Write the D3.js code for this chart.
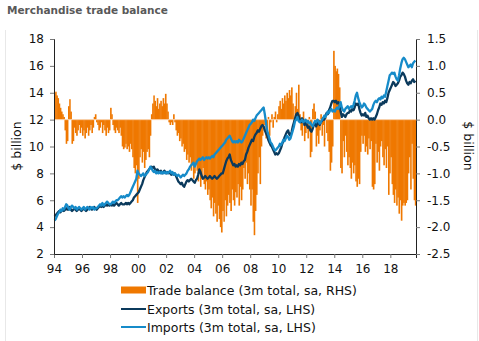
<!DOCTYPE html>
<html>
<head>
<meta charset="utf-8">
<script src="https://cdn.jsdelivr.net/npm/d3@7"></script>
<style>
  body { margin: 0; background: #fff; }
  text { font-family: "DejaVu Sans", Verdana, sans-serif; }
</style>
</head>
<body>
<div id="chart"></div>
<script>
// monthly, Jan 1994 .. Oct 2019
var balance = [
  0.50, 0.52, 0.45, 0.40, 0.30, 0.22, 0.15, 0.10, 0.05, -0.20, -0.45, -0.40, // 94
  0.25, 0.38, 0.15, -0.45, -0.40, -0.15, -0.25, -0.30, -0.20, -0.10, -0.25, -0.15,
  -0.30, -0.20, -0.35, -0.25, -0.15, -0.30, -0.20, -0.10, -0.25, -0.15, 0.05, 0.10,
  -0.05, -0.10, -0.20, -0.15, -0.05, -0.25, -0.10, -0.20, -0.30, -0.15, -0.25, -0.20,
  0.22, 0.10, -0.10, -0.20, -0.25, -0.15, -0.20, -0.25, -0.15, -0.30, -0.50, -0.55,
  -0.52, -0.45, -0.55, -0.50, -0.60, -0.45, -0.55, -0.70, -0.90, -1.00, -0.85, -1.55, // 99
  -1.10, -0.70, -0.55, -0.80, -0.60, -0.90, -0.75, -0.60, -0.55, -0.70, -0.30, 0.10,
  0.30, 0.45, 0.35, 0.25, 0.40, 0.20, 0.30, 0.35, 0.25, 0.40, 0.30, 0.48,
  0.30, 0.15, -0.05, -0.10, -0.05, -0.10, 0.10, -0.05, -0.20, -0.30, -0.25, -0.40,
  -0.35, -0.50, -0.45, -0.60, -0.55, -0.75, -0.65, -0.80, -0.70, -0.95, -0.85, -1.10,
  -1.00, -0.80, -0.95, -1.15, -1.00, -1.25, -1.10, -0.90, -1.20, -1.30, -1.15, -1.40, // 04
  -1.30, -1.50, -1.65, -1.45, -1.80, -1.55, -1.75, -1.90, -1.60, -1.85, -2.00, -2.10,
  -1.70, -1.90, -1.50, -1.80, -1.60, -1.40, -1.55, -1.70, -1.30, -1.50, -1.60, -1.35,
  -1.45, -1.20, -1.60, -1.25, -1.50, -1.30, -0.90, -1.10, -0.80, -1.20, -1.00, -1.30,
  -1.60, -1.30, -1.90, -2.15, -1.70, -1.40, -1.00, -0.70, -1.20, -0.50, -0.30, -0.10,
  -0.10, -0.35, -0.20, 0.05, -0.30, -0.05, 0.10, -0.15, 0.05, 0.15, -0.05, 0.10, // 09
  0.25, 0.35, 0.20, 0.40, 0.30, 0.45, 0.35, 0.50, 0.40, 0.55, 0.45, 0.60,
  0.30, -0.10, 0.25, 0.50, 0.20, 0.65, 0.10, -0.20, -0.30, 0.15, -0.40, -0.25,
  -0.15, -0.35, 0.05, -0.70, -0.60, 0.20, 0.30, 0.15, -0.50, -0.30, -0.45, -0.20,
  0.10, -0.30, -0.10, -0.50, 0.05, -0.25, -0.40, -0.60, -0.95, -0.80, -0.50, 1.28,
  1.00, 0.90, 0.95, 0.85, 0.60, -0.90, -1.00, -0.40, -0.70, -0.30, -0.60, -0.85, // 14
  -0.70, -0.90, -1.10, -0.80, -1.00, -0.85, -1.15, -1.25, -1.10, -1.20, -0.60, -0.30,
  -0.45, -0.30, -0.60, -0.50, -0.65, -0.35, -0.55, -0.40, -1.25, -1.30, -1.20, -0.45,
  -0.80, -0.60, -0.95, -0.50, -0.40, -0.70, -0.85, -0.55, -0.90, -0.50, -1.40, -1.00,
  -0.70, -1.20, -1.40, -1.55, -1.30, -1.60, -1.45, -1.75, -1.50, -1.88, -1.60, -1.55,
  -1.60, -1.55, -1.50, -1.00, -0.70, -1.30, -0.45, -1.10, -1.50, -1.60 // 19
];

var exportsData = [
  4.8, 4.9, 5.0, 5.1, 5.2, 5.1, 5.2, 5.3, 5.2, 5.3, 5.4, 5.3,
  5.3, 5.5, 5.3, 5.2, 5.3, 5.4, 5.3, 5.2, 5.3, 5.4, 5.3, 5.2,
  5.3, 5.4, 5.3, 5.2, 5.3, 5.4, 5.5, 5.4, 5.3, 5.4, 5.5, 5.4,
  5.3, 5.4, 5.5, 5.6, 5.5, 5.6, 5.5, 5.6, 5.7, 5.6, 5.7, 5.6,
  5.7, 5.6, 5.7, 5.6, 5.7, 5.8, 5.7, 5.6, 5.7, 5.8, 5.7, 5.7,
  5.7, 5.8, 5.7, 5.8, 5.7, 5.8, 5.9, 6.0, 6.2, 6.3, 6.4, 6.5,
  6.6, 6.8, 7.0, 7.2, 7.5, 7.7, 7.9, 8.1, 8.2, 8.3, 8.4, 8.5,
  8.4, 8.5, 8.3, 8.2, 8.3, 8.2, 8.1, 8.2, 8.0, 8.1, 8.2, 8.1,
  8.0, 8.1, 8.0, 8.1, 7.9, 8.0, 7.9, 8.0, 7.8, 7.6, 7.4, 7.3,
  7.2, 7.3, 7.1, 7.0, 7.2, 7.4, 7.5, 7.4, 7.5, 7.6, 7.5, 7.4,
  7.3, 7.5, 7.6, 7.9, 8.3, 8.1, 7.8, 7.6, 7.7, 7.8, 7.7, 7.6,
  7.7, 7.8, 7.7, 7.6, 7.7, 7.8, 7.7, 7.6, 7.7, 7.8, 7.9, 8.0,
  8.0, 8.3, 8.6, 8.9, 9.1, 9.2, 9.4, 9.0, 8.8, 8.6, 8.7, 8.5,
  8.6, 8.5, 8.7, 8.6, 8.8, 8.7, 8.9, 9.0, 9.4, 9.6, 9.9, 10.1,
  10.3, 10.5, 10.4, 10.7, 10.9, 11.0, 11.2, 11.1, 11.3, 11.5, 11.6, 11.5,
  11.2, 11.0, 10.8, 10.5, 10.3, 10.1, 10.0, 9.8, 9.6, 9.4, 9.5, 9.4,
  9.5, 9.7, 9.9, 10.2, 10.4, 10.7, 10.9, 11.1, 11.2, 10.9, 10.8, 11.1,
  11.5, 11.8, 12.1, 12.4, 12.5, 12.3, 12.0, 11.8, 12.1, 11.9, 11.6, 11.8,
  11.6, 11.4, 11.5, 11.2, 11.1, 11.3, 11.6, 11.8, 11.5, 11.7, 11.9, 11.6,
  11.8, 11.9, 12.1, 12.0, 12.3, 12.5, 12.4, 12.7, 12.9, 13.2, 13.4, 13.4,
  13.3, 13.4, 13.2, 13.3, 13.2, 12.6, 12.2, 12.4, 12.3, 12.2, 12.4, 12.5,
  12.5, 12.7, 12.6, 12.8, 12.7, 12.9, 13.2, 13.1, 13.2, 12.8, 12.5, 12.3,
  12.4, 12.3, 12.5, 12.2, 12.3, 12.1, 12.0, 12.1, 12.0, 12.1, 12.0, 12.2,
  12.4, 12.7, 12.9, 13.2, 13.1, 13.3, 13.2, 13.4, 13.3, 13.6, 14.0, 14.2,
  14.4, 14.6, 14.8, 14.7, 14.5, 14.6, 14.7, 14.9, 15.2, 15.3, 15.5, 15.4,
  15.2, 14.9, 14.7, 14.6, 14.8, 14.7, 14.9, 15.0, 14.8, 14.9
];

var importsData = [
  4.5, 4.6, 4.8, 5.0, 5.1, 5.3, 5.2, 5.4, 5.3, 5.5, 5.7, 5.6,
  5.4, 5.3, 5.5, 5.6, 5.5, 5.4, 5.5, 5.3, 5.4, 5.5, 5.4, 5.3,
  5.4, 5.5, 5.3, 5.4, 5.5, 5.4, 5.3, 5.5, 5.4, 5.5, 5.3, 5.4,
  5.4, 5.5, 5.6, 5.7, 5.6, 5.8, 5.6, 5.7, 5.8, 5.9, 5.8, 5.7,
  5.7, 5.8, 5.9, 5.8, 5.9, 6.0, 6.0, 6.1, 6.2, 6.3, 6.2, 6.3,
  6.2, 6.3, 6.4, 6.3, 6.4, 6.6, 6.8, 7.0, 7.2, 7.4, 7.6, 8.2,
  8.0, 7.9, 7.8, 7.9, 8.0, 7.8, 7.9, 8.0, 8.1, 8.3, 8.5, 8.4,
  8.2, 8.1, 8.2, 8.0, 8.1, 8.0, 8.1, 8.0, 8.1, 8.0, 8.1, 8.0,
  8.1, 8.0, 8.1, 8.2, 8.0, 8.1, 7.9, 8.0, 7.9, 7.8, 7.9, 7.8,
  7.7, 7.8, 7.9, 7.8, 7.9, 8.0, 8.2, 8.3, 8.5, 8.6, 8.7, 8.8,
  8.5, 8.7, 8.9, 9.0, 9.1, 9.0, 9.1, 9.2, 9.0, 9.1, 9.2, 9.1,
  9.2, 9.1, 9.2, 9.3, 9.2, 9.4, 9.5, 9.6, 9.7, 9.8, 9.9, 10.0,
  10.1, 10.2, 10.3, 10.5, 10.6, 10.7, 10.8, 10.6, 10.4, 10.3, 10.4, 10.3,
  10.4, 10.3, 10.5, 10.4, 10.3, 10.4, 10.6, 10.8, 11.0, 11.2, 11.4, 11.6,
  11.7, 11.8, 12.0, 11.9, 12.1, 12.3, 12.4, 12.5, 12.6, 12.7, 12.8, 12.9,
  12.4, 11.8, 11.2, 10.9, 10.6, 10.3, 10.2, 10.0, 9.8, 9.7, 9.8, 9.9,
  10.0, 10.2, 10.1, 10.3, 10.5, 10.4, 10.6, 10.8, 10.7, 10.5, 10.6, 10.9,
  11.2, 11.5, 11.9, 12.0, 12.2, 11.9, 11.8, 11.9, 12.0, 11.8, 11.9, 12.0,
  11.8, 11.9, 11.7, 11.8, 11.6, 11.5, 11.7, 11.9, 11.8, 12.0, 11.9, 11.7,
  11.8, 12.0, 12.1, 12.3, 12.2, 12.4, 12.6, 12.5, 12.7, 12.8, 12.6, 12.7,
  12.6, 12.8, 12.9, 12.8, 13.0, 13.3, 12.9, 12.7, 12.6, 12.8, 12.9, 13.0,
  12.8, 12.9, 13.0, 12.9, 13.1, 13.4, 13.8, 14.0, 13.6, 13.3, 13.1, 12.9,
  13.0, 13.2, 13.1, 12.9, 12.8, 12.7, 12.6, 12.7, 12.8, 13.1, 13.3, 13.4,
  13.3, 13.5, 13.6, 13.5, 13.7, 13.6, 13.8, 13.7, 14.1, 14.5, 14.9, 15.3,
  15.4, 15.5, 15.4, 15.5, 15.2, 15.0, 14.9, 15.3, 15.8, 16.2, 16.5, 16.6,
  16.5, 16.3, 16.1, 15.9, 16.0, 16.1, 15.9, 16.2, 16.3, 16.4
];

var leftTicks = [2, 4, 6, 8, 10, 12, 14, 16, 18];
var rightTicks = [-2.5, -2.0, -1.5, -1.0, -0.5, 0.0, 0.5, 1.0, 1.5];
var yearTicks = [1994, 1996, 1998, 2000, 2002, 2004, 2006, 2008, 2010, 2012, 2014, 2016, 2018];
var legendLabels = ["Trade balance (3m total, sa, RHS)", "Exports (3m total, sa, LHS)", "Imports (3m total, sa, LHS)"];

var w = 479, h = 341;
var orange = "#ef7800", navy = "#0b3a5c", blue = "#168bc9";

var svg = d3.select("#chart").append("svg")
  .attr("width", w).attr("height", h);

var months = balance.map(function(d, i) { return new Date(1994, i, 1); });

var x = d3.scaleTime()
  .domain([new Date(1994, 0, 1), new Date(2019, 10, 1)])
  .range([54, 416]);
var yL = d3.scaleLinear().domain([2, 18]).range([254, 39]);
var yR = d3.scaleLinear().domain([-2.5, 1.5]).range([254, 39]);

// faint frame lines
svg.append("line").attr("x1", 5.5).attr("x2", 5.5).attr("y1", 30).attr("y2", h)
  .attr("stroke", "#e8e8e8");
svg.append("line").attr("x1", 477.5).attr("x2", 477.5).attr("y1", 30).attr("y2", h)
  .attr("stroke", "#e8e8e8");

svg.append("text").attr("x", 7).attr("y", 14)
  .attr("font-size", "10.5px").attr("font-weight", "bold").attr("fill", "#595959")
  .text("Merchandise trade balance");

// bars
function mid(i) { return (x(new Date(1994, i, 1)) + x(new Date(1994, i + 1, 1))) / 2; }

svg.selectAll(".bar")
  .data(balance)
  .enter().append("rect")
  .attr("class", "bar")
  .attr("x", function(d, i) { return x(months[i]); })
  .attr("width", function(d, i) { return x(new Date(1994, i + 1, 1)) - x(months[i]) + 0.45; })
  .attr("y", function(d) { return Math.min(yR(d), yR(0)); })
  .attr("height", function(d) { return Math.abs(yR(d) - yR(0)); })
  .attr("fill", orange);

svg.append("line").attr("x1", 54).attr("x2", 416).attr("y1", yR(0)).attr("y2", yR(0))
  .attr("stroke", "#f9d2ad").attr("stroke-width", 1);

var line = d3.line()
  .x(function(d, i) { return mid(i); })
  .y(function(d) { return yL(d); });

svg.append("path").datum(exportsData)
  .attr("d", line).attr("fill", "none")
  .attr("stroke", navy).attr("stroke-width", 2.3).attr("stroke-linejoin", "round");
svg.append("path").datum(importsData)
  .attr("d", line).attr("fill", "none")
  .attr("stroke", blue).attr("stroke-width", 2.3).attr("stroke-linejoin", "round");

// axes
var gx = svg.append("g").attr("transform", "translate(0,254)")
  .call(d3.axisBottom(x)
    .tickValues(yearTicks.map(function(y) { return new Date(y, 0, 1); }))
    .tickFormat(d3.timeFormat("%y")).tickSize(4).tickPadding(6));
var gl = svg.append("g").attr("transform", "translate(54,0)")
  .call(d3.axisLeft(yL).tickValues(leftTicks).tickSize(4).tickPadding(6));
var gr = svg.append("g").attr("transform", "translate(416,0)")
  .call(d3.axisRight(yR).tickValues(rightTicks).tickFormat(d3.format(".1f")).tickSize(4).tickPadding(7));

[gx, gl, gr].forEach(function(g) {
  g.select(".domain").attr("stroke", "#222").attr("stroke-width", 1);
  g.selectAll(".tick line").attr("stroke", "#777");
  g.selectAll("text").attr("font-size", "12px").attr("fill", "#111")
    .attr("font-family", "'DejaVu Sans', Verdana, sans-serif");
});
gr.selectAll("text").text(function(d) { return d3.format(".1f")(d).replace("\u2212", "-"); });

svg.append("text")
  .attr("transform", "translate(21,146) rotate(-90)")
  .attr("text-anchor", "middle").attr("font-size", "12.5px").attr("fill", "#111")
  .text("$ billion");
svg.append("text")
  .attr("transform", "translate(464,146) rotate(90)")
  .attr("text-anchor", "middle").attr("font-size", "12.5px").attr("fill", "#111")
  .text("$ billion");

// legend
var lg = svg.append("g");
var rows = [290, 309, 327];
lg.append("rect").attr("x", 121).attr("y", rows[0] - 3.5).attr("width", 25).attr("height", 7)
  .attr("fill", orange);
lg.append("line").attr("x1", 121).attr("x2", 146).attr("y1", rows[1]).attr("y2", rows[1])
  .attr("stroke", navy).attr("stroke-width", 2);
lg.append("line").attr("x1", 121).attr("x2", 146).attr("y1", rows[2]).attr("y2", rows[2])
  .attr("stroke", blue).attr("stroke-width", 2);
lg.selectAll(".lt").data(legendLabels).enter().append("text")
  .attr("class", "lt")
  .attr("x", 147).attr("y", function(d, i) { return rows[i] + 4.5; })
  .attr("font-size", "12.5px").attr("fill", "#111")
  .text(function(d) { return d; });
</script>
</body>
</html>
